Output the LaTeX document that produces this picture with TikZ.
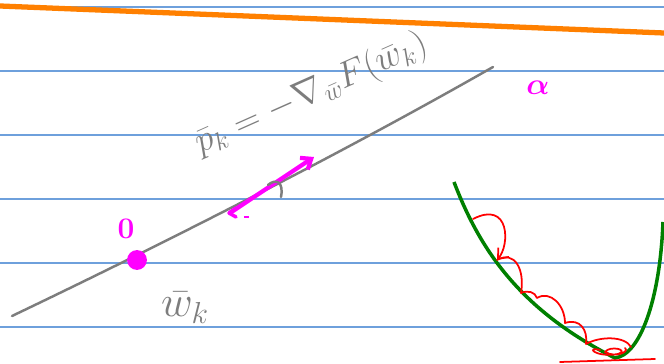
\documentclass[tikz,border=0pt]{standalone}
\usepackage{amsmath,amssymb}
\usepackage{xcolor}
\usetikzlibrary{arrows.meta}
\definecolor{rule}{RGB}{110,160,220}
\definecolor{pen}{RGB}{125,125,125}
\definecolor{hot}{RGB}{255,0,255}
\definecolor{org}{RGB}{255,128,0}
\definecolor{grn}{RGB}{0,128,0}
\begin{document}
\begin{tikzpicture}[x=0.02cm,y=-0.02cm, rl/.style={rule,line width=0.6pt}, ink/.style={line width=1.4pt,line cap=round,line join=round}, a/.style={-{Straight Barb[length=5pt,width=8pt]}}]
\useasboundingbox (0,0) rectangle (664,364);
\fill[white] (0,0) rectangle (664,364);
% ruled paper
\foreach \y in {7,71,135,199,263,327}
  \draw[rl] (0,\y) -- (664,\y);
\draw[org,line width=3pt] (0,6) -- (664,33);
% gradient line
\coordinate (lo) at (12,316);
\coordinate (hi) at (493,67);
\draw[pen,ink] (lo) .. controls (150,250) and (330,160) .. (hi);
\coordinate (tail) at (230,213);
\coordinate (tip) at (314,157);
\draw[hot,ink,line width=2.4pt,a] (tail) -- (tip);
\draw[hot,ink,line width=2pt] (236,208) -- (229,213) -- (236,217);
\draw[hot,line width=0.8pt] (244,217) -- (249,217);
\draw[pen,ink] (268,185) .. controls (276,178) and (284,182) .. (281,197);
\node[hot,circle,fill,inner sep=4pt] (wk) at (137,260) {};
\node[hot,font=\fontsize{17}{17}\selectfont\bfseries] (zero) at (126,229) {0};
\node[pen,font=\fontsize{27}{27}\selectfont] (wlab) at (185,308) {$\bar{w}_k$};
\node[pen,rotate=24,font=\fontsize{21}{22}\selectfont] (pk) at (311,94) {$\bar{p}_k = -\nabla_{\bar{w}} F(\bar{w}_k)$};
\node[hot,font=\fontsize{18}{18}\selectfont\bfseries] (alpha) at (538,88) {$\boldsymbol{\alpha}$};
% loss curve and steps
\draw[grn,line width=2pt] (454,182) .. controls (480,250) and (520,310) .. (615,358)
  .. controls (640,355) and (660,300) .. (663,222);
\draw[red,ink,line width=1pt,a] (473,219) .. controls (510,200) and (510,245) .. (497,260);
\draw[red,ink,line width=1pt] (497,260) .. controls (515,250) and (525,270) .. (521,293)
  .. controls (528,290) and (535,292) .. (537,298)
  .. controls (550,290) and (565,305) .. (565,323)
  .. controls (580,318) and (588,330) .. (586,344)
  .. controls (600,336) and (625,336) .. (631,347);
\draw[red,ink,line width=1pt] (600,350) .. controls (585,346) and (595,358) .. (618,354)
  .. controls (630,350) and (610,345) .. (605,352) .. controls (615,358) and (630,352) .. (625,348);
\draw[red,ink,line width=1pt] (560,362) -- (655,359);
\end{tikzpicture}
\end{document}
